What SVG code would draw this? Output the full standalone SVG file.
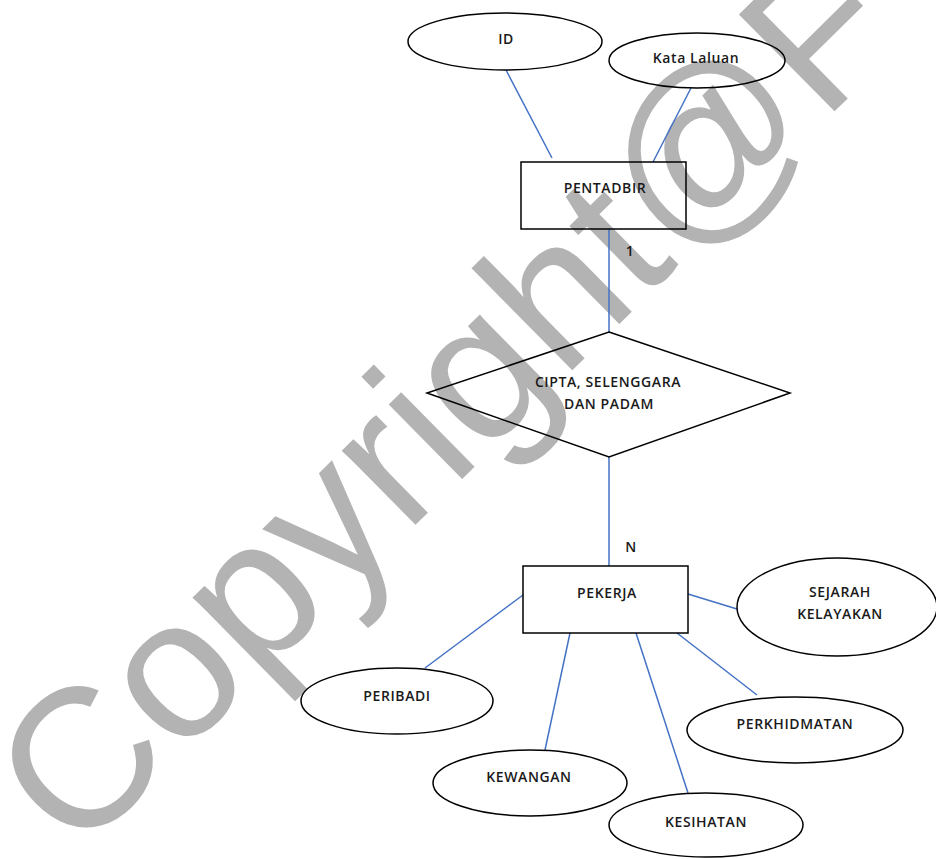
<svg xmlns="http://www.w3.org/2000/svg" width="936" height="859" viewBox="0 0 936 859">
<style>
.wm{font-family:"Liberation Sans",Arial,sans-serif;font-size:198px;fill:#b3b3b3}
.shape{fill:none;stroke:#000;stroke-width:1.5}
.conn line{stroke:#4472C4;stroke-width:1.5}
text.lbl{font-family:"Open Sans","Liberation Sans",sans-serif;font-size:14px;font-weight:600;letter-spacing:0.6px;fill:#1a1a1a;text-anchor:middle;dominant-baseline:middle}
</style>
<rect width="936" height="859" fill="#fff"/>
<text class="wm" transform="translate(76.6,859) rotate(-44.6)">Copyright@F</text>
<g id="connectors" class="conn">
<line x1="506" y1="70" x2="552" y2="158"/>
<line x1="691" y1="88" x2="653" y2="162"/>
<line x1="609" y1="229" x2="609" y2="332"/>
<line x1="609" y1="457" x2="609" y2="566"/>
<line x1="523" y1="595" x2="425" y2="668"/>
<line x1="570" y1="633" x2="545" y2="750"/>
<line x1="636" y1="633" x2="688" y2="793"/>
<line x1="677" y1="633" x2="757" y2="695"/>
<line x1="688" y1="594" x2="737" y2="609"/>
<text class="lbl" x="630" y="252">1</text>
<text class="lbl" x="631" y="548">N</text>
</g>
<g id="id-attr"><ellipse class="shape" cx="505" cy="41.5" rx="97" ry="28.5"/><text class="lbl" x="506" y="40">ID</text></g>
<g id="kata-laluan"><ellipse class="shape" cx="697" cy="60.5" rx="88" ry="27.5"/><text class="lbl" x="696" y="59">Kata Laluan</text></g>
<g id="pentadbir"><rect class="shape" x="521" y="162" width="165" height="67"/><text class="lbl" x="605" y="189">PENTADBIR</text></g>
<g id="cipta"><polygon class="shape" points="609,332 790,393 609,457 427,393"/><text class="lbl" x="608" y="383">CIPTA, SELENGGARA</text><text class="lbl" x="609" y="405">DAN PADAM</text></g>
<g id="pekerja"><rect class="shape" x="523" y="566" width="165" height="67"/><text class="lbl" x="607" y="594">PEKERJA</text></g>
<g id="peribadi"><ellipse class="shape" cx="397" cy="701" rx="96" ry="33"/><text class="lbl" x="397" y="697">PERIBADI</text></g>
<g id="kewangan"><ellipse class="shape" cx="530" cy="783" rx="97" ry="33"/><text class="lbl" x="529" y="778">KEWANGAN</text></g>
<g id="kesihatan"><ellipse class="shape" cx="706" cy="825" rx="97" ry="32"/><text class="lbl" x="706" y="823">KESIHATAN</text></g>
<g id="perkhidmatan"><ellipse class="shape" cx="795" cy="730" rx="108" ry="33"/><text class="lbl" x="795" y="725">PERKHIDMATAN</text></g>
<g id="sejarah"><ellipse class="shape" cx="837" cy="607" rx="100" ry="49"/><text class="lbl" x="840" y="593">SEJARAH</text><text class="lbl" x="840" y="615">KELAYAKAN</text></g>
</svg>
